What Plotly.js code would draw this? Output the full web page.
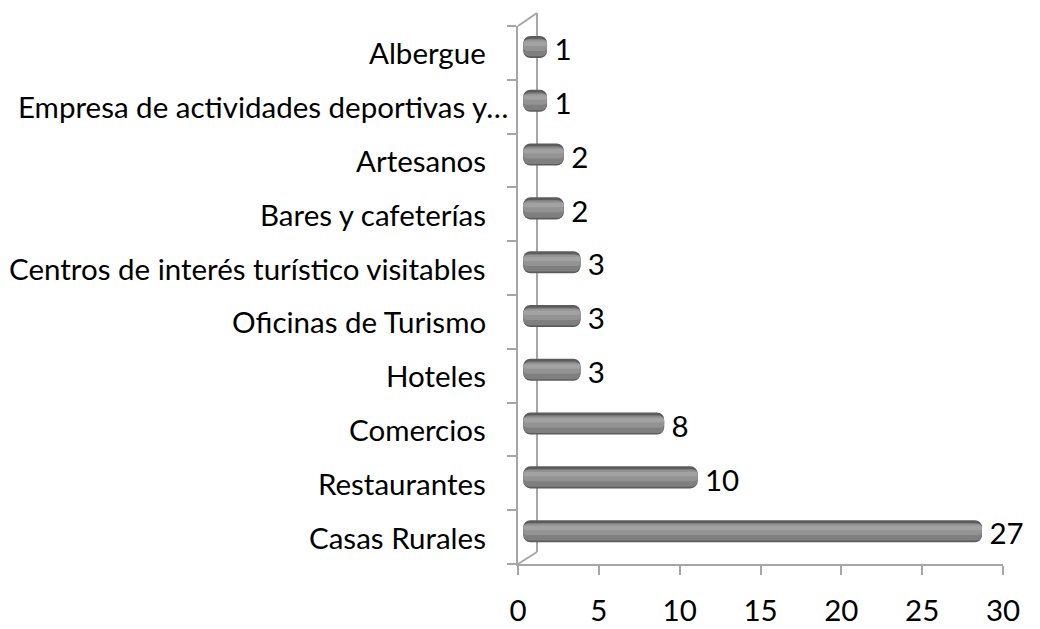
<!DOCTYPE html>
<html>
<head>
<meta charset="utf-8">
<script src="https://cdn.plot.ly/plotly-3.0.1.min.js"></script>
<style>html,body{margin:0;padding:0;background:#fff;}#chart{width:1040px;height:629px;}</style>
</head>
<body>
<div id="chart"></div>
<script>
// Data (bottom to top)
const categories = ["Casas Rurales","Restaurantes","Comercios","Hoteles","Oficinas de Turismo","Centros de interés turístico visitables","Bares y cafeterías","Artesanos","Empresa de actividades deportivas y…","Albergue"];
const values = [27, 10, 8, 3, 3, 3, 2, 2, 1, 1];
const xTicks = [0, 5, 10, 15, 20, 25, 30];

const FONT = "Lato, 'Liberation Sans', sans-serif";
const FS = 29.5;
const AXIS = "#a6a6a6";
const W = 1040, H = 629;
const L = 518, R = 1003, T = 26, B = 564;
const pw = R - L, ph = B - T;
// bar (depth) scale: 0 at 530.3px, 16.73 px per unit
const barZero = 530.3, barScale = 16.73;
const x2range = [(L - barZero) / barScale, (R - barZero) / barScale];
const cap = 7 / barScale;

const barW = 0.41, barShift = 0.11;
function layer(width, center, color, radius) {
  return {
    type: "bar", orientation: "h", xaxis: "x2", yaxis: "y",
    y: categories, x: values.map(v => v + cap), base: -cap,
    width: width, offset: barShift + center - width / 2,
    marker: {color: color, line: {width: 0}, cornerradius: radius},
    hoverinfo: "skip", showlegend: false
  };
}
const traces = [
  // anchor trace so the visible x axis (x/y subplot) is drawn
  {type: "scatter", mode: "markers", xaxis: "x", yaxis: "y", x: [xTicks[0], xTicks[xTicks.length - 1]], y: [categories[0], categories[0]],
   marker: {opacity: 0, size: 1}, hoverinfo: "skip", showlegend: false},
  layer(barW, 0, "#5c5c5c", 7),
  layer(barW * 0.80, -0.01, "#7f7f7f", 6),
  layer(barW * 0.50, 0.03, "#939393", 4),
  layer(barW * 0.20, 0.06, "#a2a2a2", 2),
  {
    type: "scatter", mode: "text", xaxis: "x2", yaxis: "y",
    y: categories, x: values, text: values.map(v => "\u2009\u2009" + v),
    textposition: "middle right",
    textfont: {family: FONT, size: FS, color: "#000"},
    hoverinfo: "skip", showlegend: false, cliponaxis: false
  }
];

const annotations = categories.map(c => ({
  xref: "paper", yref: "y", x: 0, y: c, text: c,
  xanchor: "right", yanchor: "middle", showarrow: false,
  xshift: c.endsWith("…") ? -8 : -30,
  font: {family: FONT, size: FS, color: "#000"}
}));

const px = v => (v - L) / pw, py = v => (B - v) / ph;
const shapes = [
  {type: "line", xref: "paper", yref: "paper", x0: px(537), x1: px(537), y0: py(552), y1: py(13), line: {color: AXIS, width: 2}, layer: "below"},
  {type: "line", xref: "paper", yref: "paper", x0: px(518), x1: px(537), y0: py(26), y1: py(13), line: {color: AXIS, width: 2}, layer: "below"},
  {type: "line", xref: "paper", yref: "paper", x0: px(518), x1: px(537), y0: py(564), y1: py(552), line: {color: AXIS, width: 2}, layer: "below"}
];

const layout = {
  width: W, height: H,
  margin: {l: L, r: W - R, t: T, b: H - B, pad: 0},
  paper_bgcolor: "#fff", plot_bgcolor: "rgba(0,0,0,0)",
  barmode: "overlay",
  font: {family: FONT, size: FS, color: "#000"},
  xaxis: {
    range: [0, 30], tickvals: xTicks, ticktext: xTicks.map(String),
    showgrid: false, zeroline: false, showline: true, linecolor: AXIS, linewidth: 2,
    ticks: "outside", ticklen: 9, tickwidth: 2, tickcolor: AXIS,
    tickfont: {family: FONT, size: FS, color: "#000"}, ticklabelstandoff: 11, fixedrange: true
  },
  xaxis2: {overlaying: "x", range: x2range, visible: false, fixedrange: true},
  yaxis: {
    type: "category", categoryorder: "array", categoryarray: categories,
    range: [-0.5, categories.length - 0.5],
    showgrid: false, zeroline: false, showline: true, linecolor: AXIS, linewidth: 2,
    ticks: "outside", tickson: "boundaries", ticklen: 9, tickwidth: 2, tickcolor: AXIS,
    showticklabels: false, fixedrange: true
  },
  shapes: shapes,
  annotations: annotations
};

Plotly.newPlot("chart", traces, layout, {displayModeBar: false, staticPlot: true});
</script>
</body>
</html>
